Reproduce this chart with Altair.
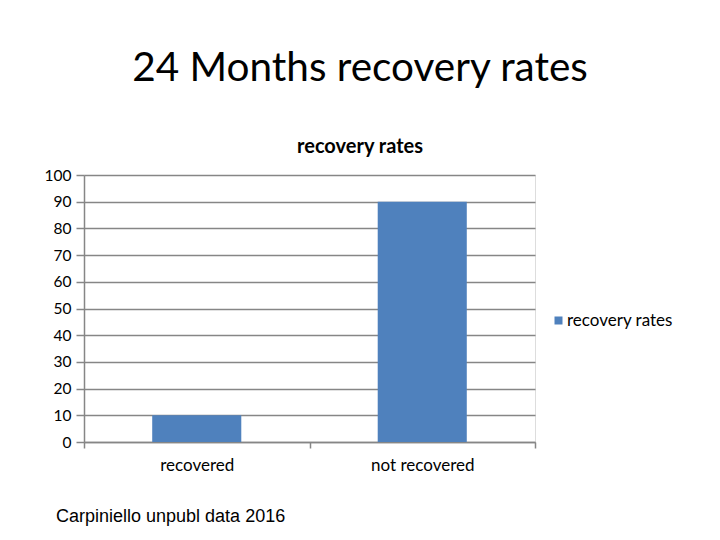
import altair as alt
import pandas as pd

categories = ["recovered", "not recovered"]
values = [10, 90]
series_name = "recovery rates"

df = pd.DataFrame({"category": categories, "value": values, "series": [series_name] * 2})

FONT = "Lato"
W, H = 451, 267

bars = alt.Chart(df).mark_bar(color="#4F81BD", width=alt.RelativeBandSize(0.395)).encode(
    x=alt.X("category:N", sort=categories,
            scale=alt.Scale(paddingInner=0, paddingOuter=0),
            axis=alt.Axis(title=None, labelAngle=0, labelFontSize=17, labelFont=FONT,
                          labelColor="#000000", domainColor="#868686", domainWidth=1.5,
                          tickColor="#868686", tickWidth=1.5, tickSize=6, tickBand="extent",
                          labelPadding=9)),
    y=alt.Y("value:Q", scale=alt.Scale(domain=[0, 100], nice=False),
            axis=alt.Axis(title=None, values=list(range(0, 101, 10)), labelFontSize=15.5,
                          labelFont=FONT, labelColor="#000000", domainColor="#868686",
                          domainWidth=1.5, tickColor="#868686", tickWidth=1.5, tickSize=8,
                          gridColor="#868686", gridWidth=1.5, labelPadding=5)),
    fill=alt.Fill("series:N", scale=alt.Scale(range=["#4F81BD"]),
                  legend=alt.Legend(title=None, orient="none", legendX=466, legendY=137,
                                    symbolType="square", symbolSize=64, labelFontSize=17,
                                    labelFont=FONT, labelColor="#000000", symbolStrokeWidth=0,
                                    labelOffset=0)),
)

txt = pd.DataFrame({"t": [0]})
title = alt.Chart(txt).mark_text(text="24 Months recovery rates", font=FONT, fontSize=40.5,
                                 align="center", baseline="middle", color="#000000").encode(
    x=alt.value(276), y=alt.value(-106))
subtitle = alt.Chart(txt).mark_text(text="recovery rates", font=FONT, fontSize=20, fontWeight="bold",
                                    align="center", baseline="middle", color="#000000").encode(
    x=alt.value(276), y=alt.value(-28))
footer = alt.Chart(txt).mark_text(text="Carpiniello unpubl data 2016", font="Liberation Sans", fontSize=18,
                                  align="left", baseline="middle", color="#000000").encode(
    x=alt.value(-28), y=alt.value(342))

chart = alt.layer(bars, title, subtitle, footer).properties(
    width=W, height=H,
    autosize=alt.AutoSizeParams(type="none"),
    padding={"left": 76, "top": 167, "right": 704 - 76 - W, "bottom": 524 - 167 - H},
).configure_view(stroke=None).configure(background="white")

chart.save("out.html", embed_options={"renderer": "svg", "actions": False})
